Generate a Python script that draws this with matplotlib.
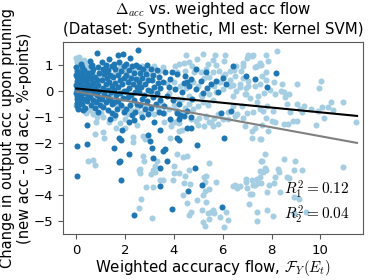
import numpy as np
import matplotlib
matplotlib.use('Agg')
import matplotlib.pyplot as plt

plt.rcParams['mathtext.fontset'] = 'cm'

# Series 1 (dark points) as (x, y) pairs
dark_pts = [
    (0.00, 0.90), (0.02, 0.78), (0.05, 0.66), (0.01, 0.55), (0.08, 0.47), (0.03, 0.38), (0.10, 0.31),
    (0.00, 0.24), (0.06, 0.18), (0.12, 0.11), (0.02, 0.05), (0.07, -0.02), (0.00, -0.08), (0.11, -0.14),
    (0.04, -0.21), (0.09, -0.27), (0.01, -0.33), (0.06, -0.42), (0.13, -0.50), (0.03, -0.58), (0.08, -0.71),
    (0.14, 0.42), (0.15, 0.02), (0.05, 0.12), (0.12, -0.36), (0.00, 0.62), (0.10, 0.72), (0.04, -0.46),
    (0.04, -2.13), (0.42, -2.06), (0.46, -1.31), (0.04, -3.30),
    (0.20, 1.05), (0.25, 0.92), (0.30, 0.80), (0.22, 0.65), (0.35, 0.58), (0.18, 0.50), (0.28, 0.40),
    (0.40, 0.33), (0.20, 0.22), (0.33, 0.15), (0.45, 0.07), (0.25, 0.00), (0.38, -0.10), (0.18, -0.18),
    (0.30, -0.30), (0.42, -0.40), (0.22, -0.52), (0.35, -0.65), (0.48, 0.70), (0.45, 0.50), (0.50, 0.25),
    (0.48, -0.20), (0.30, 0.10), (0.27, -0.75),
    (0.55, 1.15), (0.60, 0.95), (0.83, 1.47), (0.70, 0.85), (0.65, 0.72), (0.90, 0.90), (0.58, 0.60),
    (0.75, 0.55), (0.95, 0.70), (0.62, 0.45), (0.85, 0.40), (0.70, 0.30), (0.55, 0.20), (0.90, 0.22),
    (0.78, 0.12), (0.60, 0.02), (0.95, 0.00), (0.72, -0.08), (0.85, -0.15), (0.58, -0.25), (0.68, -0.35),
    (0.92, -0.32), (0.80, -0.45), (0.60, -0.55), (0.75, -0.65), (0.98, -0.55), (0.88, -0.80), (0.65, 1.00),
    (1.05, 1.10), (1.20, 1.00), (1.35, 1.23), (1.10, 0.85), (1.30, 0.80), (1.45, 0.95), (1.15, 0.65),
    (1.40, 0.60), (1.25, 0.50), (1.05, 0.40), (1.35, 0.35), (1.20, 0.25), (1.48, 0.20), (1.10, 0.10),
    (1.30, 0.05), (1.42, -0.05), (1.15, -0.12), (1.28, -0.22), (1.05, -0.30), (1.38, -0.35), (1.20, -0.45),
    (1.45, -0.50), (1.10, -0.62), (1.30, -0.75), (1.48, -0.85), (1.40, -1.09), (1.22, 0.72),
    (1.69, 1.39), (1.90, 1.43), (1.55, 1.05), (1.75, 1.10), (1.95, 0.95), (1.60, 0.85), (1.85, 0.75),
    (1.70, 0.60), (1.52, 0.55), (1.95, 0.50), (1.78, 0.40), (1.60, 0.30), (1.88, 0.25), (1.70, 0.15),
    (1.55, 0.05), (1.95, 0.00), (1.80, -0.10), (1.62, -0.18), (1.90, -0.28), (1.72, -0.38), (1.55, -0.45),
    (1.85, -0.55), (1.68, -0.70), (1.95, -0.80), (1.58, -0.95), (1.75, -1.81), (1.85, -1.90), (1.88, -1.51),
    (1.53, -2.22), (1.78, -2.71), (1.83, -3.44), (1.76, -2.73),
    (2.53, 1.56), (2.22, 1.27), (2.05, 1.05), (2.30, 0.95), (2.45, 1.00), (2.15, 0.80), (2.38, 0.70),
    (2.05, 0.60), (2.25, 0.50), (2.45, 0.45), (2.10, 0.35), (2.32, 0.25), (2.48, 0.15), (2.18, 0.10),
    (2.02, -0.02), (2.40, -0.05), (2.25, -0.15), (2.10, -0.25), (2.35, -0.35), (2.48, -0.50), (2.20, -0.55),
    (2.05, -0.70), (2.42, -0.80), (2.30, -0.95), (2.38, -1.13), (2.17, -2.45), (2.36, -4.78), (2.15, -1.20),
    (2.55, 0.90), (2.75, 0.85), (2.90, 1.00), (2.60, 0.70), (2.85, 0.65), (2.70, 0.50), (2.95, 0.40),
    (2.55, 0.35), (2.80, 0.25), (2.65, 0.15), (2.92, 0.05), (2.58, -0.05), (2.78, -0.15), (2.68, -0.30),
    (2.90, -0.40), (2.60, -0.55), (2.80, -0.70), (2.95, -0.90), (2.92, -1.71), (2.70, -1.00),
    (3.05, 0.85), (3.30, 0.80), (3.15, 0.60), (3.40, 0.55), (3.10, 0.40), (3.35, 0.30), (3.20, 0.15),
    (3.45, 0.10), (3.05, 0.00), (3.30, -0.10), (3.15, -0.25), (3.42, -0.35), (3.25, -0.50), (3.08, -0.65),
    (3.38, -0.80), (3.10, -2.22), (3.14, -2.58), (3.03, -1.94), (3.17, -1.22), (3.44, -1.52), (3.43, -2.99),
    (3.42, -3.68), (3.64, -2.26), (3.57, -2.32), (3.71, -2.69),
    (3.64, 0.71), (3.92, 0.71), (4.13, 0.65), (4.47, 0.58), (3.57, 0.32), (3.78, 0.13), (4.06, 0.06),
    (4.33, -0.06), (3.70, -0.20), (3.95, -0.35), (4.20, -0.50), (3.60, -0.60), (4.40, 0.30), (3.85, 0.45),
    (4.22, -1.10), (3.92, -4.55), (3.57, -0.87), (3.85, -1.09), (4.13, -0.87), (4.26, -0.92), (4.40, -0.96),
    (4.54, -0.79), (4.68, -1.00), (4.13, -1.81), (4.19, -1.91),
    (4.68, 0.45), (4.54, 0.32), (4.61, 0.19), (4.89, 0.06), (4.89, 0.84), (5.10, 0.39), (5.31, 0.71),
    (5.51, 0.26), (5.72, 0.39), (6.14, 0.26), (5.79, -0.04), (6.42, 0.97), (5.20, -0.10), (4.75, -0.30),
    (4.54, -1.43), (4.68, -1.43), (4.56, -3.87), (4.86, -2.99), (4.96, -2.08), (5.17, -3.64), (5.97, -4.48),
    (6.07, -1.82), (5.35, 0.10), (6.00, 0.50), (6.35, -0.79), (5.93, -0.87),
    (6.97, 0.58), (7.32, 0.47), (8.20, 0.68), (7.82, 0.16),
]

# Series 2 (light points)
light_pts = [
    (0.00, 1.25), (0.10, 1.30), (0.20, 1.15), (0.05, 1.10), (0.30, 1.20), (0.35, 1.05), (0.50, 1.00),
    (0.45, 0.85), (0.15, 0.95), (0.00, -0.55), (0.10, -0.65), (0.25, -0.60), (0.40, -0.85), (0.55, -0.75),
    (0.70, -0.90), (0.85, -1.00), (1.00, -0.85), (0.81, -1.22), (0.76, -1.65), (1.08, -1.57), (1.15, -1.81),
    (0.50, -2.71), (0.69, -2.68), (0.76, -2.87), (1.64, -1.42), (1.99, -1.42), (2.31, -1.78), (2.33, -1.96),
    (2.75, -1.74), (2.80, -1.85), (2.75, -2.52), (2.79, -2.69), (2.57, -3.04), (2.62, -3.15), (3.21, -2.91),
    (3.31, -2.69), (3.15, -3.05),
    (1.00, 0.55), (1.30, 0.95), (1.60, 0.70), (1.80, 0.90), (2.00, 0.75), (2.15, 0.55), (2.40, 0.85),
    (2.60, 0.55), (2.70, 0.95), (2.85, 0.75), (3.00, 0.60), (3.20, 0.95), (3.40, 0.75), (3.55, 0.90),
    (1.40, -0.20), (1.65, -0.55), (1.90, -0.65), (2.10, -0.90), (2.25, -0.75), (2.50, -0.65), (2.65, -0.85),
    (2.85, -0.55), (3.00, -0.75), (3.20, -0.90), (3.35, -0.65), (3.50, -0.50), (3.60, -0.85), (3.80, -0.70),
    (4.00, -0.55), (4.10, -0.75), (4.30, -0.85), (4.45, -0.65), (4.60, -0.50), (4.80, -0.70), (5.00, -0.60),
    (5.20, -0.45), (5.40, -0.55), (5.60, -0.35), (1.10, -1.00), (1.35, -1.20), (1.55, -1.05), (1.80, -1.25),
    (2.00, -1.10), (2.50, -1.30), (3.60, -1.20), (3.90, -1.35), (4.20, -1.25), (4.35, -1.50), (4.70, -1.10),
    (5.00, -1.30), (5.30, -1.00), (5.50, -1.20), (5.80, -0.90), (6.00, -1.10), (6.20, -0.80), (6.40, -0.60),
    (6.60, -0.90), (6.80, -0.60), (7.00, -0.85), (3.70, 0.30), (4.00, 0.35), (4.25, 0.20), (4.50, 0.10),
    (4.80, 0.35), (5.00, 0.20), (5.25, 0.50), (5.45, 0.55), (5.65, 0.20), (5.90, 0.35), (6.10, 0.65),
    (6.30, 0.40), (3.80, -0.10), (4.15, -0.30), (4.60, -0.20), (5.10, -0.15),
    (5.19, 1.40), (5.69, 1.36), (6.11, 1.36), (6.07, 1.13), (4.96, 1.23), (4.61, 1.10), (4.75, 0.95),
    (5.38, 1.04), (5.72, 1.00), (5.58, 1.17), (4.40, 1.08), (4.06, 0.95), (7.18, 1.34), (7.00, 1.26),
    (6.83, 1.08), (6.56, 0.95), (6.44, 0.82), (7.53, 1.08), (7.32, 0.91), (6.76, 0.78), (6.28, 0.78),
    (5.86, 0.78), (5.58, 0.71), (5.31, 0.84), (5.10, 0.71), (4.82, 0.71), (4.47, 0.78), (4.13, 0.71),
    (6.00, 0.58), (6.49, 0.58), (6.83, 0.48), (7.04, 0.39), (6.69, 0.26), (6.28, 0.19), (6.00, 0.06),
    (5.72, -0.04), (5.44, -0.13), (5.17, -0.19), (4.33, -0.32), (6.97, -0.13), (6.42, -0.19), (4.50, 1.36),
    (4.19, 1.04),
    (10.44, -0.43), (10.93, -0.43), (11.46, -1.21), (10.13, -1.04), (10.03, 0.39), (9.94, 0.10),
    (9.04, 0.26), (9.18, -0.69), (9.06, -1.17), (8.86, -1.16), (8.67, -1.26), (8.49, -1.26), (8.14, -1.22),
    (8.00, -1.18), (7.79, -1.03), (7.60, -1.30), (7.53, -0.71), (7.81, -0.58), (7.39, -0.45), (7.11, -0.26),
    (6.90, -0.13), (6.97, 0.09), (6.69, 0.13), (6.56, 0.00), (6.42, 0.22), (6.83, 0.97), (7.04, 1.36),
    (7.25, 1.36), (7.76, 1.39), (8.24, 1.53), (7.86, 1.13), (7.58, 1.00), (7.39, 0.97), (7.79, 0.71),
    (7.60, 0.58), (7.79, 0.43), (8.44, 0.26), (8.08, 0.32), (8.50, -0.06), (8.72, -0.13), (8.53, -0.22),
    (8.14, -0.13), (8.39, 0.00), (8.64, -0.52), (9.06, -0.52), (9.33, -0.58), (9.61, -0.71), (9.89, -0.78),
    (10.08, -0.62), (10.29, -0.62), (10.50, -0.74), (7.53, 0.26), (7.32, 0.19), (7.04, 0.19), (7.65, -0.79),
    (8.07, -0.79), (8.76, -0.83), (9.25, -0.83), (9.83, -1.32), (7.86, -1.55), (7.58, -1.87), (7.95, 0.05),
    (7.70, -0.10), (7.45, -0.20),
    (7.72, -2.43), (7.58, -2.71), (8.49, -2.61), (8.94, -2.69), (10.92, -2.95), (7.72, -2.97), (7.79, -3.04),
    (7.65, -3.13), (8.25, -3.01), (8.31, -3.13), (8.93, -3.04), (9.25, -3.04), (8.14, -3.34), (8.63, -3.34),
    (8.70, -3.37), (9.13, -4.16), (8.90, -4.10), (9.40, -4.68), (8.92, -4.71), (8.08, -3.57), (7.88, -3.64),
    (8.36, -3.90), (7.81, -3.90), (7.32, -3.64), (7.11, -3.96), (7.00, -3.75), (7.39, -5.00), (8.06, -4.81),
    (7.83, -4.60), (7.55, -3.55), (7.20, -3.45), (6.95, -3.50), (7.40, -3.40), (6.70, -3.68), (6.50, -3.62),
    (3.57, -3.44), (3.99, -3.18), (4.19, -3.18), (4.44, -3.29), (3.96, -3.44), (4.40, -3.57), (4.64, -3.60),
    (5.24, -3.34), (5.26, -3.53), (5.44, -3.77), (5.19, -4.00), (5.28, -3.86), (4.96, -4.19), (4.54, -4.32),
    (4.38, -4.00), (5.72, -3.53), (6.42, -3.66), (6.58, -3.73), (6.97, -3.38), (7.53, -3.31), (7.46, -3.55),
    (7.25, -3.64), (7.18, -3.99), (7.08, -4.38), (7.39, -4.68), (5.31, -4.29), (5.17, -4.58), (5.38, -4.71),
    (5.51, -4.68), (5.58, -4.61), (5.65, -4.71), (5.21, -5.06), (5.28, -5.19), (5.44, -4.94), (4.68, -4.68),
    (4.61, -4.78), (5.89, -4.87), (6.21, -4.97), (6.07, -5.23), (6.14, -4.68),
    (3.85, -1.83), (4.19, -1.55), (4.13, -2.45), (4.36, -2.56), (4.54, -2.52), (5.44, -2.78), (3.99, -2.91),
    (4.61, -3.04), (5.31, -3.30), (7.18, -1.83), (7.53, -1.87), (7.60, -2.71), (7.53, -3.10),
    (4.89, -1.16), (5.24, -1.35), (5.44, -1.22), (5.58, -1.35), (5.79, -1.26), (6.21, -1.09), (6.49, -0.96),
    (6.83, -1.03), (7.25, -0.83), (7.18, -1.55), (7.32, -1.42), (6.90, -1.35), (5.65, -1.03), (3.92, -1.22),
    (4.06, -1.22), (5.03, -1.03), (5.31, -0.96),
    (2.60, -3.00), (3.05, -3.19), (2.85, -3.71), (3.15, -3.72), (2.67, -4.16), (2.58, -4.53), (3.11, -4.90),
    (3.44, -3.42), (3.22, -3.14),
]

# regression fits (intercept, slope) and their R^2
fit_intercepts = [0.09, -0.03]
fit_slopes = [-0.092, -0.172]
fit_r2 = [0.12, 0.04]
fit_x_range = [0.0, 11.5]

dark_x, dark_y = np.array(dark_pts).T
light_x, light_y = np.array(light_pts).T

fig, ax = plt.subplots(figsize=(3.74, 2.8), dpi=100)
fig.subplots_adjust(left=0.168, right=0.971, top=0.85, bottom=0.164)

ax.scatter(light_x, light_y, s=19, color='#a6cee3', linewidths=0, zorder=2)
ax.scatter(dark_x, dark_y, s=19, color='#1f78b4', linewidths=0, zorder=3)

xs = np.array(fit_x_range)
ax.plot(xs, fit_intercepts[0] + fit_slopes[0] * xs, color='black', lw=1.5, zorder=4)
ax.plot(xs, fit_intercepts[1] + fit_slopes[1] * xs, color='gray', lw=1.5, zorder=4)

ax.text(0.955, 0.04, '$R_1^2 = %.2f$\n$R_2^2 = %.2f$' % (fit_r2[0], fit_r2[1]),
        transform=ax.transAxes, ha='right', va='bottom', fontsize=11)

ax.set_xlim(-0.55, 11.75)
ax.set_ylim(-5.52, 1.88)
ax.set_xticks([0, 2, 4, 6, 8, 10])
ax.set_yticks([1, 0, -1, -2, -3, -4, -5])
ax.tick_params(labelsize=9.5, color='0.35', length=3.5)
for sp in ax.spines.values():
    sp.set_color('0.35')

ax.set_title('$\\Delta_{acc}$ vs. weighted acc flow\n(Dataset: Synthetic, MI est: Kernel SVM)', fontsize=10.8)
ax.set_xlabel('Weighted accuracy flow, $\\mathcal{F}_Y(E_t)$', fontsize=10.8, labelpad=1)
ax.set_ylabel('Change in output acc upon pruning\n(new acc - old acc, %-points)', fontsize=10.5, labelpad=1)

fig.savefig('out.png', dpi=100)
